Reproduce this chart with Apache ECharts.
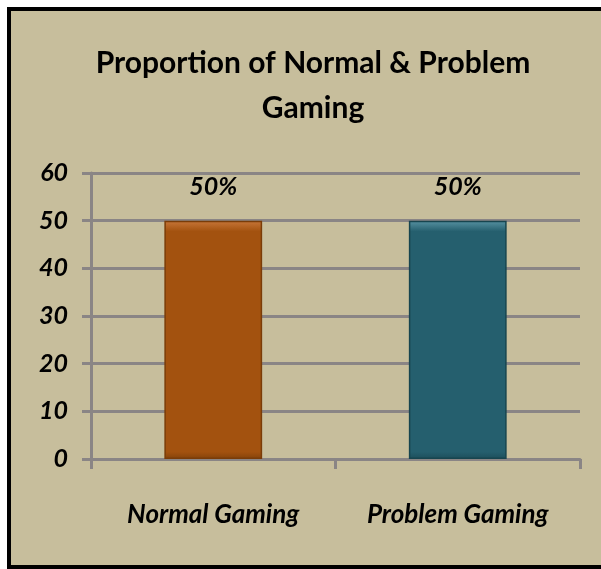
<!DOCTYPE html>
<html><head><meta charset="utf-8">
<script src="https://cdn.jsdelivr.net/npm/echarts@6/dist/echarts.min.js"></script>
<style>
html,body{margin:0;padding:0;width:601px;height:569px;background:#fff;overflow:hidden}
#frame{position:absolute;left:7px;top:7px;width:600px;height:562px;box-sizing:border-box;border-left:4px solid #000;border-top:4px solid #000;border-bottom:4px solid #000;background:#C7BE9C}
#chart{position:absolute;left:0;top:0;width:601px;height:569px}
</style></head>
<body>
<div id="frame"></div>
<div id="chart"></div>
<script>
const titleText = 'Proportion of Normal & Problem\nGaming';
const categories = ['Normal Gaming', 'Problem Gaming'];
const values = [50, 50];
const valueLabels = ['50%', '50%'];
const yTicks = [0, 10, 20, 30, 40, 50, 60];
// [edge, main, top highlight, bottom shade]
const barColors = [['#7A3C08', '#A3520F', '#C8773A', '#84420A'], ['#17454F', '#255F6E', '#5893A3', '#1C4E5A']];

const chart = echarts.init(document.getElementById('chart'));
const font = 'Lato, "Open Sans", sans-serif';
chart.setOption({
  backgroundColor: 'transparent',
  title: {
    text: titleText, left: 308, top: 36, textAlign: 'center',
    textStyle: {fontFamily: font, fontSize: 30, fontWeight: 'bold', color: '#000', lineHeight: 45}
  },
  grid: {left: 91, right: 21, top: 173, bottom: 110},
  xAxis: {
    type: 'category', data: categories,
    axisLine: {lineStyle: {color: '#8A8585', width: 3}},
    axisTick: {show: true, length: 10, interval: 0, lineStyle: {color: '#8A8585', width: 3}},
    axisLabel: {margin: 43, fontFamily: font, fontSize: 26, fontWeight: 'bold', fontStyle: 'italic', color: '#000'}
  },
  yAxis: {
    type: 'value', min: 0, max: 60, interval: 10,
    axisLine: {show: true, lineStyle: {color: '#8A8585', width: 3}},
    axisTick: {show: true, length: 9, lineStyle: {color: '#8A8585', width: 3}},
    splitLine: {lineStyle: {color: '#8A8585', width: 3}},
    axisLabel: {margin: 23, fontFamily: font, fontSize: 25, fontWeight: 'bold', fontStyle: 'italic', color: '#000',
      formatter: v => yTicks.includes(v) ? String(v) : ''}
  },
  series: [{
    type: 'bar', barWidth: '40%',
    data: values.map((v, i) => ({
      value: v,
      itemStyle: {
        color: new echarts.graphic.LinearGradient(0, 0, 0, 1, [
          {offset: 0, color: barColors[i][2]},
          {offset: 0.045, color: barColors[i][1]}, {offset: 0.97, color: barColors[i][1]},
          {offset: 1, color: barColors[i][3]}
        ]),
        borderColor: barColors[i][0], borderWidth: 1.5
      },
      label: {formatter: valueLabels[i]}
    })),
    label: {show: true, position: 'top', distance: 21, fontFamily: font, fontSize: 25, fontWeight: 'bold', fontStyle: 'italic', color: '#000'}
  }]
});
</script>
</body></html>
